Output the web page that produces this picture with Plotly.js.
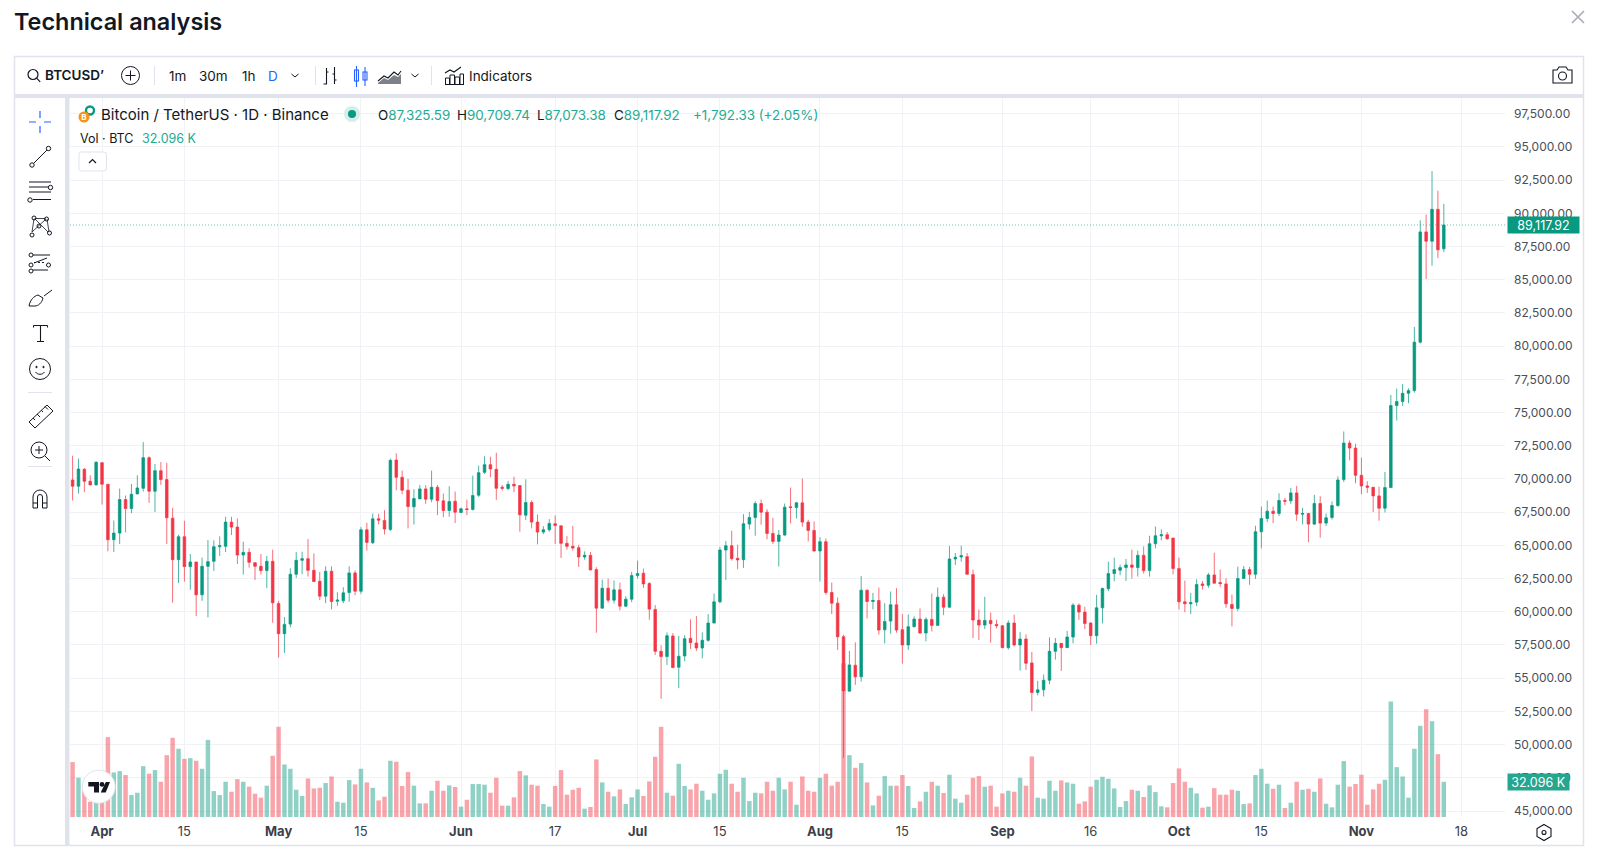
<!DOCTYPE html>
<html>
<head>
<meta charset="utf-8">
<title>Technical analysis</title>
<script src="https://cdn.plot.ly/plotly-3.0.1.min.js"></script>
<style>
html,body{margin:0;padding:0;background:#fff;width:1600px;height:863px;overflow:hidden}
#chart{position:absolute;left:0;top:0;width:1600px;height:863px}
#chrome{position:absolute;left:0;top:0;pointer-events:none}
</style>
</head>
<body>
<div id="chart"></div>
<svg id="chrome" width="1600" height="863" viewBox="0 0 1600 863" fill="none" stroke="#131722" stroke-width="1">
  <!-- frame -->
  <rect x="14.5" y="56.5" width="1569" height="789" stroke="#e0e3eb" stroke-width="1.5"/>
  <rect x="15" y="94" width="1568" height="4" fill="#e0e3eb" stroke="none"/>
  <rect x="65" y="97" width="4.5" height="748" fill="#e0e3eb" stroke="none"/>
  <path d="M1572 11l12 12M1584 11l-12 12" stroke="#a8abb5" stroke-width="1.6"/>
  <!-- toolbar icons -->
  <circle cx="33" cy="74.5" r="5" stroke-width="1.2"/><path d="M36.6 78.2l3.6 3.6" stroke-width="1.2"/>
  <circle cx="130.5" cy="75.5" r="9" /><path d="M130.5 70.5v10M125.5 75.5h10"/>
  <path d="M154.5 66v19M315.5 66v19M431.5 66v19" stroke="#e0e3eb"/>
  <path d="M291.5 74l3.5 3 3.5-3M411.5 74l3.5 3 3.5-3"/>
  <path d="M326.5 68v16h-3M326.5 72h2M334.5 67v17M334.5 74h-2M334.5 80h2" stroke-width="1.1"/>
  <g stroke="#2962ff" stroke-width="1.1"><rect x="354.5" y="70" width="4" height="11"/><path d="M356.5 66v21M365 67v19"/><rect x="363" y="72" width="4" height="8"/></g>
  <path d="M378 81l6-5 4 2 6-6 4 3 3-4" stroke-width="1.1"/><path d="M378 83l6-5 4 2 6-5 4 2 3-3v10h-23z" fill="#7d8088" stroke="none"/>
  <path d="M445 73l5-3 4 2 7-5" stroke-width="1.1"/><path d="M445.5 84v-6h4v6M450 84v-9h4.5v9M455 84v-7h4.5v7M460 84v-10h3.5v10M445 84.5h19"/>
  <path d="M1553 70h4l2-3h7l2 3h4v13h-19z" stroke-width="1.1"/><circle cx="1562.5" cy="76" r="4" stroke-width="1.1"/>
  <!-- left tools -->
  <g stroke="#2962ff" stroke-width="1.2"><path d="M40 111v7M40 126v7M29 122h7M44 122h7"/></g>
  <g stroke-width="1">
    <circle cx="32" cy="165" r="2.2"/><circle cx="48.5" cy="148.5" r="2.2"/><path d="M33.6 163.4l13.3-13.3"/>
    <path d="M29 182h22M29 187h20M29 192h22M33 199.5h18"/><circle cx="50.5" cy="187.5" r="2.2"/><circle cx="30" cy="200" r="2.2"/>
    <path d="M34 219l-2 13M35 219l13 13M46 219l-14 13M47 219l2 13M34.5 218.5l11 0" stroke-width=".8"/><circle cx="34" cy="218" r="2"/><circle cx="46.5" cy="219" r="2"/><circle cx="32" cy="235" r="2"/><circle cx="49.5" cy="233" r="2"/><circle cx="39" cy="226" r="2"/>
    <path d="M33 255h17M33 270h15M34 263l13-5" /><path d="M34 262.5h12" stroke-dasharray="2 2"/><circle cx="31" cy="255" r="2"/><circle cx="31" cy="265" r="2"/><circle cx="48.5" cy="265" r="2"/><circle cx="31" cy="271" r="2"/>
    <path d="M29 306c1-6 5-10 9-11l5 3c-1 5-5 8-8 8z"/><path d="M44 296l8-6"/>
    <path d="M33.5 325.5h14M33.5 325.5v2M47.5 325.5v2M40.5 325.5v16M37 341.5h7" stroke-width="1.1"/>
    <circle cx="40" cy="369" r="10.5"/><circle cx="36.5" cy="367" r=".7" fill="#131722"/><circle cx="43.5" cy="367" r=".7" fill="#131722"/><path d="M35.5 372c2 3 7 3 9 0"/>
    <path d="M29 422l18-17 6 6-18 17z"/><path d="M33 418l2 2M37 414l3 3M41 410l2 2M45 406.5l3 3"/>
    <circle cx="39" cy="450" r="8"/><path d="M39 446v8M35 450h8M45 456l5 5"/>
    <path d="M33 508v-11a7 7 0 0 1 14 0v11h-4.5v-11a2.5 2.5 0 0 0-5 0v11zM33 503h4.5M42.5 503h4.5"/>
  </g>
  <path d="M28 392.5h24M28 466.5h24" stroke="#e0e3eb"/>
  <!-- symbol logo -->
  <circle cx="90" cy="110.5" r="4" fill="none" stroke="#089981" stroke-width="2.4"/>
  <circle cx="84" cy="117" r="5.5" fill="#f7931a" stroke="none"/>
  <text x="84" y="120" font-family="Inter" font-size="8" font-weight="700" text-anchor="middle" fill="#fff" stroke="none">B</text>
  <circle cx="352" cy="114" r="8" fill="#d5eee9" stroke="none"/><circle cx="352" cy="114" r="4" fill="#089981" stroke="none"/>
  <rect x="79" y="152" width="27.5" height="19" rx="2.5" stroke="#e0e3eb" fill="#fff"/>
  <path d="M89 163l3.5-3.5 3.5 3.5" stroke-width="1.2"/>
  <!-- watermark -->
  <circle cx="98.7" cy="786.7" r="16.5" fill="#fff" stroke="#e0e3eb" stroke-width="1"/>
  <path d="M88.3 782h10.7v10.4h-5v-6h-5.7z" fill="#131722" stroke="none"/><circle cx="102" cy="784.4" r="2.4" fill="#131722" stroke="none"/><path d="M105.8 782h4.2l-4.3 10.4h-5z" fill="#131722" stroke="none"/>
  <!-- settings -->
  <path d="M1544 824.5l7 4v8l-7 4-7-4v-8z" stroke-width="1.1"/><circle cx="1544" cy="832.5" r="2" stroke-width="1.1"/>
</svg>
<script>
var firstDay = '2024-03-27';
var opens = [
69925,69450,70725,69825,69550,71225,69600,65425,65925,68450,
67775,68875,69300,71600,69075,70625,69950,67050,63925,65650,
63400,63750,61275,63425,63800,64900,64925,66750,66375,64275,
64475,63700,63425,63100,63800,60625,58350,59075,62825,63875,
64000,63125,62300,61175,63050,60800,60825,61450,62925,61550,
66175,65200,67000,66875,66200,71425,70125,69150,67900,68500,
69250,68475,69375,68350,67625,68325,67475,67750,67700,68775,
70500,71075,70725,69375,69275,69600,69500,67275,68225,66750,
66000,66175,66625,66475,65150,64925,64825,64125,64250,63175,
60275,61775,60875,61650,60425,60950,62725,62900,62125,60175,
57025,56625,58175,55825,56675,58000,57650,57275,57850,59150,
60750,64650,64975,64025,63925,66600,67100,68150,67500,65900,
65300,65775,67900,67850,68200,66750,66125,64575,65275,61450,
60650,58125,54025,55975,55100,61625,60775,60850,58650,59300,
60525,58650,57500,58875,59450,58400,59425,58975,61100,60350,
63975,64125,64150,62800,59375,59000,59350,59050,58950,57300,
59150,57500,57950,56150,53925,54125,54850,57025,57625,57300,
58100,60500,59975,59150,58200,60300,61725,62875,63125,63325,
63525,63325,64250,63100,65125,65725,65800,65550,63250,60750,
60600,60725,62100,62000,62775,62200,62100,60550,60250,62500,
63175,62825,66025,67025,67575,67400,68375,68350,68950,67350,
67400,66600,68150,66675,67100,68000,69950,72700,72325,70275,
69475,69375,68725,67800,69350,75525,75825,76450,76650,80300,
88600,87900,90300,87325.59];
var highs = [
71750,71525,70825,70275,71350,71250,69625,66875,69275,68750,
69625,70275,72775,71700,71125,71275,71225,67825,65800,66850,
64350,63750,64075,65400,65375,65675,67150,67150,67025,65275,
64775,63725,64350,64200,64675,60825,59600,63275,64500,64525,
65475,64400,63000,63425,63425,61475,61850,63425,63125,66375,
66700,67400,67375,67650,71525,71925,70625,70000,69225,69550,
69525,70625,69550,68900,69450,69050,67850,68450,70250,71000,
71700,71675,71975,69550,69850,70175,69525,69975,68375,67325,
66450,66975,67250,66475,65700,66475,65050,64550,64500,63350,
62425,62500,62350,62200,61175,63000,63850,63250,62225,60500,
57475,58450,58400,58175,58225,59425,59675,58450,59825,61375,
64875,65325,66100,65050,67350,67525,68325,68450,67725,67075,
66150,68150,69350,68275,70025,66925,66800,65625,65525,62200,
61075,58275,57050,57700,62700,61675,61425,61825,60650,61525,
61775,59825,59800,59650,60250,59575,61375,61825,61325,64950,
64425,64975,64425,63175,60175,61125,59950,59400,58975,59350,
59775,58475,58300,56975,54800,55275,58075,58025,57625,58550,
60650,60625,60375,59225,61275,61825,63775,64075,63550,63975,
64675,64600,64925,65725,66425,66200,66000,65550,64075,62350,
61425,62450,62300,62925,64450,63175,62525,61300,63400,63450,
63375,66475,67925,68375,67925,68925,68575,69325,69475,67825,
67450,68800,68700,67400,68300,70200,73575,72900,72650,71600,
69825,69400,69425,70525,76325,76800,77150,76825,81450,89475,
89900,93175,91700,90709.74];
var lows = [
68375,68900,69000,69525,69525,68075,64550,64500,65100,65975,
67425,68850,69050,68200,67500,69550,65100,60675,62150,62275,
61650,59675,60825,59575,63075,64200,64500,65775,63600,62800,
63325,62400,62800,61775,59175,56550,56900,58825,62550,62825,
62650,62250,60875,60650,60175,60450,60650,60750,61250,61350,
64600,65100,66575,65825,66075,69150,68850,66275,66575,68500,
68125,68250,67275,67125,67150,66675,67425,67275,67625,68650,
70375,70125,68425,69125,69150,69000,66025,66900,66275,65075,
65850,66025,65100,64050,64675,64600,63375,63925,63125,58425,
60250,60700,60625,60100,60375,60725,62500,61800,59400,56750,
53450,56000,55750,54250,56275,57200,57050,56500,57750,59150,
60650,62400,63850,63200,63300,66200,65725,66550,65450,65100,
63400,65725,66650,67025,66400,65300,64525,62275,61275,59825,
57125,49000,54000,54500,54750,59500,60175,58275,57625,58350,
58425,56100,57125,58825,58350,57775,58525,58975,59750,60300,
63525,63775,62800,58025,57875,58700,57675,58750,57250,57150,
57400,55575,55625,52525,53700,53625,54550,56400,55550,57300,
57625,59400,58700,57500,57600,59125,61550,62300,62750,62325,
62500,62650,62875,62650,64775,65375,65425,62825,60175,59975,
59825,60425,61675,61800,62150,61875,60300,58900,60050,62475,
62025,62475,64775,66750,66675,67200,68025,68125,66850,66575,
65250,66525,65575,66450,66950,67900,69775,71400,69675,68850,
68950,67500,66850,67475,69325,74400,75500,75700,76500,80200,
85050,86050,86625,87073.38];
var closes = [
69450,70750,69825,69550,71250,69600,65425,65925,68450,67775,
68850,69325,71600,69075,70625,69950,67075,63925,65650,63400,
63750,61275,63425,63775,64900,64975,66750,66375,64275,64475,
63725,63425,63100,63800,60675,58350,59050,62825,63875,64000,
63125,62275,61175,63050,60775,60875,61425,62925,61550,66175,
65225,67000,66900,66225,71400,70125,69150,67925,68525,69250,
68475,69375,68375,67625,68300,67500,67750,67700,68750,70475,
71075,70750,69300,69300,69600,69475,67300,68225,66750,66000,
66175,66650,66500,65150,64925,64800,64125,64250,63150,60275,
61775,60875,61650,60425,60950,62725,62875,62100,60200,57025,
56625,58200,55800,56650,57975,57675,57275,57850,59150,60750,
64650,64975,64000,63900,66625,67100,68150,67500,65900,65300,
65775,67875,67850,68200,66750,66125,64575,65275,61450,60650,
58125,54050,56000,55100,61625,60775,60850,58625,59275,60525,
58625,57500,58875,59450,58400,59425,58975,61100,60350,63975,
64100,64225,62825,59375,59000,59350,59100,58950,57300,59150,
57500,57950,56125,53925,54125,54850,57025,57625,57300,58100,
60500,59975,59125,58200,60300,61750,62875,63175,63325,63525,
63350,64250,63100,65125,65725,65800,65500,63250,60750,60600,
60700,62050,61975,62775,62150,62125,60600,60250,62500,63175,
62825,66025,67025,67575,67400,68375,68325,68950,67350,67400,
66600,68150,66675,67075,68000,69925,72700,72325,70275,69475,
69375,68725,67800,69350,75525,75825,76450,76650,80300,88600,
87900,90300,87250,89117.92];
var volumesK = [
50.0,35.7,24.8,13.9,21.5,38.0,72.7,40.6,41.8,38.2,
20.0,22.1,46.3,39.4,42.7,32.1,56.3,72.1,62.1,53.0,
53.6,51.2,43.9,70.2,23.6,20.0,32.1,23.0,34.5,32.1,
27.6,21.2,17.6,28.5,55.7,82.1,47.8,43.9,24.8,19.1,
35.1,26.0,26.6,30.9,36.9,13.9,13.0,33.6,29.7,43.9,
31.5,26.6,15.1,18.5,51.2,50.3,28.2,40.9,28.5,12.4,
12.4,23.9,33.0,23.9,28.8,27.3,9.4,15.7,30.0,30.0,
29.4,22.1,35.7,10.3,10.3,17.9,41.8,37.9,29.4,28.5,
11.8,9.4,28.2,42.7,20.3,24.8,26.6,7.6,9.1,52.4,
31.5,23.0,18.8,25.1,11.8,17.9,25.1,19.1,32.4,54.8,
82.1,22.1,19.4,48.4,28.2,25.1,30.3,23.9,15.7,21.5,
39.4,43.0,30.3,23.0,35.7,14.5,22.1,21.5,32.1,23.9,
35.7,25.1,32.1,11.2,36.9,23.9,23.0,35.7,39.4,28.5,
32.1,140,56.3,44.8,49.1,31.5,10.6,19.4,37.2,28.5,
28.5,38.2,28.2,8.2,14.2,23.0,32.1,28.5,21.8,38.5,
16.7,13.0,20.3,35.7,37.2,27.6,28.5,9.4,21.5,23.9,
23.0,35.7,28.5,55.1,17.6,16.7,33.0,23.9,33.3,31.5,
30.3,12.1,14.2,27.6,33.9,36.6,34.8,26.0,9.1,14.5,
24.8,23.9,18.2,28.8,22.7,9.7,8.8,30.9,44.2,32.1,
26.6,21.5,8.5,9.4,26.3,20.3,20.3,24.8,23.9,11.8,
12.4,38.2,43.9,30.3,25.7,29.4,8.2,13.0,32.1,24.8,
25.7,23.0,35.1,12.1,8.8,29.4,50.9,27.6,30.0,38.5,
11.2,25.1,30.3,33.9,105.1,45.4,36.9,17.6,62.1,83.0,
98.1,87.2,57.2,32.096];

var timeTickDates = ['2024-04-01','2024-04-15','2024-05-01','2024-05-15','2024-06-01','2024-06-17','2024-07-01','2024-07-15','2024-08-01','2024-08-15','2024-09-01','2024-09-16','2024-10-01','2024-10-15','2024-11-01','2024-11-18'];
var timeTickLabels = ['<b>Apr</b>','15','<b>May</b>','15','<b>Jun</b>','17','<b>Jul</b>','15','<b>Aug</b>','15','<b>Sep</b>','16','<b>Oct</b>','15','<b>Nov</b>','18'];
var priceTicks = [45000,47500,50000,52500,55000,57500,60000,62500,65000,67500,70000,72500,75000,77500,80000,82500,85000,87500,90000,92500,95000,97500];

var UP = '#089981', DOWN = '#F23645', FONT = 'Inter, "Noto Sans", sans-serif';
var W = 1600, H = 863, L = 70, R = 1505, T = 97.5, B = 817.5;
function px(X){ return (X - L) / (R - L); }
function py(Y){ return (B - Y) / (B - T); }

var dates = opens.map(function(_, i){
  return new Date(Date.UTC(2024, 2, 27 + i)).toISOString().slice(0, 10);
});
var volColors = opens.map(function(o, i){
  return (closes[i] >= o ? 'rgba(8,153,129,0.45)' : 'rgba(242,54,69,0.45)');
});

var volume = {type:'bar', x:dates, y:volumesK, yaxis:'y', xaxis:'x',
  marker:{color:volColors, line:{width:0}}, hoverinfo:'skip', showlegend:false};
var candles = {type:'candlestick', x:dates, open:opens, high:highs, low:lows, close:closes,
  yaxis:'y2', xaxis:'x', whiskerwidth:0, showlegend:false, hoverinfo:'skip',
  increasing:{line:{color:'rgba(8,153,129,0.72)', width:1}, fillcolor:UP},
  decreasing:{line:{color:'rgba(242,54,69,0.72)', width:1}, fillcolor:DOWN}};

function text(t, X, Y, size, color, extra){
  var a = {text:t, xref:'paper', yref:'paper', x:px(X), y:py(Y), xanchor:'left', yanchor:'middle',
    showarrow:false, borderpad:0, font:{family:FONT, size:size, color:color}};
  for (var k in extra){ if (k === 'weight') a.font.weight = extra[k]; else a[k] = extra[k]; }
  return a;
}
function v(s){ return '<span style="color:#22ab94">' + s + '</span>'; }

var last = closes[closes.length - 1];
var lastVol = volumesK[volumesK.length - 1];
var annotations = [
  text('BTCUSD\u02BC', 44, 74.5, 13.5, '#131722', {weight:600}),
  text('1m', 177, 75, 13.5, '#131722', {xanchor:'center'}),
  text('30m', 213, 75, 13.5, '#131722', {xanchor:'center'}),
  text('1h', 248, 75, 13.5, '#131722', {xanchor:'center'}),
  text('D', 272.5, 75, 13.5, '#2962ff', {xanchor:'center'}),
  text('Indicators', 468, 75, 13.5, '#131722'),
  text('Bitcoin / TetherUS \u00B7 1D \u00B7 Binance', 100, 114.5, 15, '#131722'),
  text('O' + v('87,325.59'), 376.5, 114.5, 13.4, '#131722'),
  text('H' + v('90,709.74'), 456, 114.5, 13.4, '#131722'),
  text('L' + v('87,073.38'), 535.7, 114.5, 13.4, '#131722'),
  text('C' + v('89,117.92'), 613.3, 114.5, 13.4, '#131722'),
  text(v('+1,792.33 (+2.05%)'), 691.8, 114.5, 13.4, '#22ab94'),
  text('Vol \u00B7 BTC', 78.6, 138, 12.5, '#131722'),
  text('32.096 K', 141, 138, 12.5, '#22ab94'),
  {text:'89,117.92', xref:'paper', yref:'y2', x:px(1507), y:last, xanchor:'left', yanchor:'middle', showarrow:false,
   bgcolor:UP, width:71, height:16, align:'center', borderpad:0, font:{family:FONT, size:12.5, color:'#fff'}},
  {text:'32.096 K', xref:'paper', yref:'y', x:px(1507), y:lastVol, xanchor:'left', yanchor:'middle', showarrow:false,
   bgcolor:'#26a68f', width:61, height:16, align:'center', borderpad:0, font:{family:FONT, size:12.5, color:'#fff'}}
];

var layout = {
  width:W, height:H, paper_bgcolor:'#fff', plot_bgcolor:'#fff', showlegend:false,
  margin:{l:L, r:W - R, t:T, b:H - B, pad:0},
  title:{text:'Technical analysis', font:{family:FONT, size:23.4, color:'#131722', weight:600},
    xref:'container', yref:'container', x:14/W, xanchor:'left', y:1 - 21.5/H, yanchor:'middle', pad:{l:0,r:0,t:0,b:0}},
  barmode:'overlay', bargap:0.24, boxgap:0.37, boxmode:'overlay',
  xaxis:{type:'date', range:['2024-03-26 13:26','2024-11-25 09:36'], tickmode:'array',
    tickvals:timeTickDates, ticktext:timeTickLabels, ticks:'', showline:false, zeroline:false,
    gridcolor:'#f0f2f6', gridwidth:1, tickfont:{family:FONT, size:13, color:'#3c4049'},
    rangeslider:{visible:false}, fixedrange:true, ticklabelstandoff:5},
  yaxis:{range:[0, 654.5], visible:false, fixedrange:true, showgrid:false, zeroline:false},
  yaxis2:{overlaying:'y', side:'right', range:[44550, 98680], tickmode:'array', tickvals:priceTicks,
    tickformat:',.2f', ticks:'', showline:false, zeroline:false, gridcolor:'#f0f2f6', gridwidth:1,
    tickfont:{family:FONT, size:12, color:'#4a4e58'}, fixedrange:true, ticklabelstandoff:8},
  shapes:[{type:'line', xref:'paper', yref:'y2', x0:0, x1:1, y0:last, y1:last,
    line:{color:UP, width:1, dash:'1px,2px'}, layer:'above', opacity:0.6}],
  annotations:annotations
};
Plotly.newPlot('chart', [volume, candles], layout, {displayModeBar:false, staticPlot:true});
</script>
</body>
</html>
